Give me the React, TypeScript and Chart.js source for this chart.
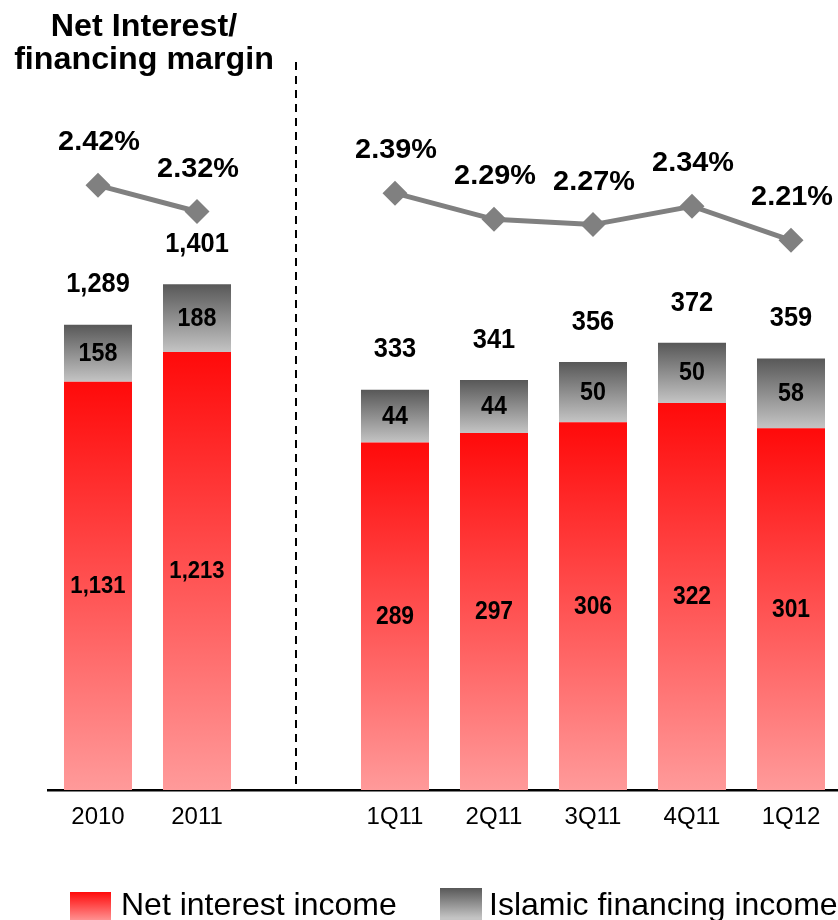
import React, { useEffect, useRef } from 'react';
import { Chart, registerables } from 'chart.js';

Chart.register(...registerables);

// ---- data ----
const annualCategories = ['2010', '2011'];
const quarterCategories = ['1Q11', '2Q11', '3Q11', '4Q11', '1Q12'];
const annualNetInterest = [1131, 1213];
const annualIslamic = [158, 188];
const quarterNetInterest = [289, 297, 306, 322, 301];
const quarterIslamic = [44, 44, 50, 50, 58];
const annualMargin = [2.42, 2.32];
const quarterMargin = [2.39, 2.29, 2.27, 2.34, 2.21];
const seriesNames = ['Net interest income', 'Islamic financing income', 'Net Interest/financing margin'];
const titleLines = ['Net Interest/', 'financing margin'];

// ---- helpers ----
const FONT = '"Liberation Sans", Arial, sans-serif';
const nA = annualCategories.length;
const nQ = quarterCategories.length;
const labels = [...annualCategories, '', ...quarterCategories];
const annualOnly = (a: (number | null)[]) => [...a, ...Array(1 + nQ).fill(null)];
const quarterOnly = (q: (number | null)[]) => [...Array(nA + 1).fill(null), ...q];
const zeros = (n: number) => Array(n).fill(0);

const RED = ['#ff0a0a', '#ff9a9a'];
const GRAY = ['#585858', '#c4c4c4'];

function gradient(stops: string[]) {
  return (c: any) => {
    const chart = c.chart;
    if (!chart.chartArea || c.type !== 'data') return stops[0];
    const ds = c.dataset;
    const v = ds.data[c.dataIndex];
    if (v == null) return stops[0];
    const base = ds.baseValues[c.dataIndex] || 0;
    const sc = chart.scales[ds.yAxisID];
    const top = sc.getPixelForValue(base + v);
    const bot = sc.getPixelForValue(base);
    const g = chart.ctx.createLinearGradient(0, top, 0, bot);
    g.addColorStop(0, stops[0]);
    g.addColorStop(1, stops[1]);
    return g;
  };
}

const fmt = (v: number) => v.toLocaleString('en-US');

function drawText(
  ctx: CanvasRenderingContext2D,
  text: string,
  x: number,
  cy: number,
  size: number,
  sx: number,
  bold = true,
  align: CanvasTextAlign = 'center'
) {
  ctx.save();
  ctx.translate(x, cy + size * 0.358);
  ctx.scale(sx, 1);
  ctx.font = `${bold ? 'bold ' : ''}${size}px ${FONT}`;
  ctx.fillStyle = '#000';
  ctx.textAlign = align;
  ctx.textBaseline = 'alphabetic';
  ctx.fillText(text, 0, 0);
  ctx.restore();
}

const labelPlugin = {
  id: 'valueLabels',
  afterDatasetsDraw(chart: any) {
    const ctx = chart.ctx as CanvasRenderingContext2D;
    chart.data.datasets.forEach((ds: any, i: number) => {
      const meta = chart.getDatasetMeta(i);
      meta.data.forEach((el: any, j: number) => {
        const v = ds.data[j];
        if (v == null) return;
        if (ds.type === 'line') {
          drawText(ctx, v.toFixed(2) + '%', el.x + 1, el.y - 45, 28, 1.03);
          return;
        }
        const { x, y, base } = el.getProps(['x', 'y', 'base'], true);
        drawText(ctx, fmt(v), x, (y + base) / 2 - 1.5, ds.labelSize, ds.labelScale);
        if (ds.isTop) {
          drawText(ctx, fmt(ds.baseValues[j] + v), x, y - 42, 27, 0.94);
        }
      });
    });
  },
};

const decorPlugin = {
  id: 'decor',
  afterDraw(chart: any) {
    const ctx = chart.ctx as CanvasRenderingContext2D;
    const area = chart.chartArea;
    // title
    drawText(ctx, titleLines[0], 144, 25, 31, 1.04);
    drawText(ctx, titleLines[1], 144, 58, 31, 1.04);
    // dashed separator at the blank slot
    const sx = chart.scales.x.getPixelForValue(nA);
    ctx.save();
    ctx.strokeStyle = '#000';
    ctx.lineWidth = 2;
    ctx.setLineDash([8, 6]);
    ctx.beginPath();
    ctx.moveTo(sx, 62);
    ctx.lineTo(sx, area.bottom - 5);
    ctx.stroke();
    ctx.restore();
    // legend
    const items = [
      { name: seriesNames[0], stops: RED, x: 70, top: 892, w: 41, gap: 10 },
      { name: seriesNames[1], stops: GRAY, x: 440, top: 888, w: 42, gap: 7 },
    ];
    items.forEach((it) => {
      const g = ctx.createLinearGradient(0, it.top, 0, it.top + 30);
      g.addColorStop(0, it.stops[0]);
      g.addColorStop(1, it.stops[1]);
      ctx.fillStyle = g;
      ctx.fillRect(it.x, it.top, it.w, 40);
      drawText(ctx, it.name, it.x + it.w + it.gap, 904, 32, 1.0, false, 'left');
    });
  },
};

// scale calibration (pixels per unit / axis ranges)
const PLOT_H = 790;
const ANNUAL_MAX = PLOT_H / 0.361;
const QUARTER_MAX = PLOT_H / 1.202;
const MARGIN_MIN = 2.32 - (PLOT_H - 211.5) / 262;
const MARGIN_MAX = 2.32 + 211.5 / 262;

export default function App() {
  const ref = useRef<HTMLCanvasElement | null>(null);

  useEffect(() => {
    document.body.style.margin = '0';
    if (!ref.current) return;
    const chart = new Chart(ref.current, {
      type: 'bar',
      data: {
        labels,
        datasets: [
          {
            type: 'line',
            label: seriesNames[2],
            data: [...annualMargin, null, ...quarterMargin],
            yAxisID: 'yM',
            borderColor: '#808080',
            borderWidth: 5,
            pointStyle: 'rectRot',
            pointRadius: 12.5,
            pointBackgroundColor: '#808080',
            pointBorderWidth: 0,
            tension: 0,
            spanGaps: false,
            clip: false,
            order: 0,
          } as any,
          {
            label: seriesNames[0],
            data: annualOnly(annualNetInterest),
            baseValues: annualOnly(zeros(nA)),
            yAxisID: 'yA',
            stack: 's',
            backgroundColor: gradient(RED),
            labelSize: 24,
            labelScale: 0.92,
            order: 1,
          } as any,
          {
            label: seriesNames[1],
            data: annualOnly(annualIslamic),
            baseValues: annualOnly(annualNetInterest),
            yAxisID: 'yA',
            stack: 's',
            backgroundColor: gradient(GRAY),
            labelSize: 25,
            labelScale: 0.93,
            isTop: true,
            order: 1,
          } as any,
          {
            label: seriesNames[0],
            data: quarterOnly(quarterNetInterest),
            baseValues: quarterOnly(zeros(nQ)),
            yAxisID: 'yQ',
            stack: 's',
            backgroundColor: gradient(RED),
            labelSize: 26,
            labelScale: 0.88,
            order: 1,
          } as any,
          {
            label: seriesNames[1],
            data: quarterOnly(quarterIslamic),
            baseValues: quarterOnly(quarterNetInterest),
            yAxisID: 'yQ',
            stack: 's',
            backgroundColor: gradient(GRAY),
            labelSize: 25,
            labelScale: 0.93,
            isTop: true,
            order: 1,
          } as any,
        ],
      },
      options: {
        responsive: false,
        animation: false,
        layout: { autoPadding: false, padding: { left: 48.5, right: 1.5, top: 0, bottom: 90 } },
        datasets: { bar: { categoryPercentage: 1, barPercentage: 0.687, borderWidth: 0 } },
        plugins: { legend: { display: false }, tooltip: { enabled: false }, title: { display: false } },
        scales: {
          x: {
            stacked: true,
            z: 1,
            grid: { display: false, drawTicks: false },
            border: { display: true, color: '#000', width: 2.5 },
            ticks: { color: '#000', font: { family: FONT, size: 24 }, padding: 13, maxRotation: 0, autoSkip: false },
            afterFit: (s: any) => { s.height = 40; },
          },
          yA: { display: false, stacked: true, min: 0, max: ANNUAL_MAX },
          yQ: { display: false, stacked: true, min: 0, max: QUARTER_MAX },
          yM: { display: false, min: MARGIN_MIN, max: MARGIN_MAX },
        },
      } as any,
      plugins: [labelPlugin, decorPlugin],
    });
    return () => chart.destroy();
  }, []);

  return (
    <div style={{ width: 838, height: 920, overflow: 'hidden', position: 'relative', background: '#fff' }}>
      <canvas ref={ref} width={842} height={920} style={{ display: 'block', width: 842, height: 920 }} />
    </div>
  );
}
